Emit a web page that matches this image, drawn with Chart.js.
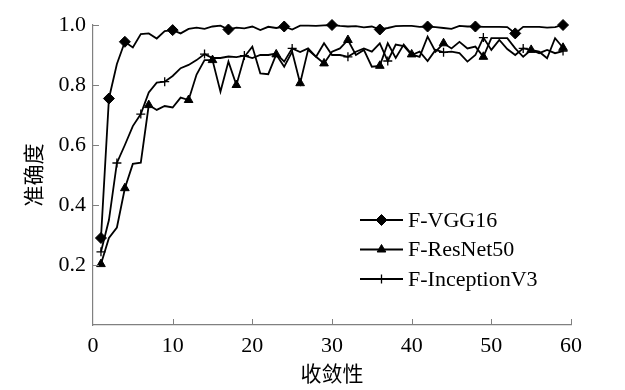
<!DOCTYPE html>
<html lang="zh">
<head>
<meta charset="UTF-8">
<title>准确度-收敛性</title>
<script src="https://cdn.jsdelivr.net/npm/chart.js"></script>
<style>
  html, body { margin: 0; padding: 0; background: #fff; }
  #wrap { width: 625px; height: 390px; }
</style>
</head>
<body>
<div id="wrap"><canvas id="chart"></canvas></div>
<script>
  // epochs 1..59
  const epochs = Array.from({ length: 59 }, (_, i) => i + 1);

  const vgg16 = [
    0.29, 0.755, 0.87, 0.944, 0.925, 0.97, 0.972, 0.955, 0.98, 0.983,
    0.972, 0.987, 0.991, 0.987, 0.995, 0.998, 0.985, 0.991, 0.989, 0.995,
    0.983, 0.994, 0.99, 0.995, 0.985, 0.998, 0.998, 0.997, 0.999, 1.0,
    0.997, 0.995, 0.996, 0.992, 0.995, 0.985, 0.99, 0.996, 0.997, 0.997,
    0.994, 0.995, 0.993, 0.99, 0.987, 0.997, 0.995, 0.995, 0.994, 0.994,
    0.994, 0.993, 0.972, 0.994, 0.994, 0.994, 0.991, 0.993, 1.0
  ];
  const resnet50 = [
    0.203, 0.29, 0.325, 0.456, 0.537, 0.541, 0.733, 0.717, 0.73, 0.725,
    0.758, 0.75, 0.835, 0.883, 0.883, 0.778, 0.878, 0.8, 0.894, 0.928,
    0.839, 0.836, 0.902, 0.861, 0.911, 0.806, 0.917, 0.894, 0.872, 0.911,
    0.922, 0.95, 0.9, 0.917, 0.861, 0.864, 0.939, 0.89, 0.935, 0.902,
    0.894, 0.961, 0.911, 0.939, 0.922, 0.944, 0.922, 0.928, 0.894, 0.956,
    0.956, 0.956, 0.922, 0.894, 0.917, 0.911, 0.889, 0.956, 0.924
  ];
  const inceptionV3 = [
    0.244, 0.35, 0.54, 0.6, 0.663, 0.703, 0.775, 0.808, 0.811, 0.83,
    0.856, 0.867, 0.883, 0.903, 0.89, 0.89, 0.895, 0.893, 0.898, 0.89,
    0.9, 0.9, 0.905, 0.878, 0.922, 0.91, 0.922, 0.894, 0.939, 0.9,
    0.9, 0.894, 0.911, 0.922, 0.911, 0.939, 0.88, 0.935, 0.93, 0.9,
    0.911, 0.88, 0.917, 0.909, 0.911, 0.906, 0.878, 0.9, 0.958, 0.917,
    0.95, 0.92, 0.9, 0.922, 0.917, 0.906, 0.917, 0.906, 0.913
  ];

  // epochs that carry a marker
  const vggMarks = [1, 2, 4, 10, 17, 24, 30, 36, 42, 48, 53, 59];
  const resnetMarks = [1, 4, 7, 12, 15, 18, 23, 26, 29, 32, 36, 40, 44, 49, 55, 59];
  const inceptionMarks = [1, 3, 6, 9, 14, 19, 25, 32, 37, 44, 49, 54, 59];

  const xTicks = [0, 10, 20, 30, 40, 50, 60];
  const yTicks = [0.2, 0.4, 0.6, 0.8, 1.0];

  const axisColor = '#808080';
  const serif = "'Liberation Serif', 'Times New Roman', serif";
  const cjk = "'Noto Sans CJK SC', sans-serif";

  const makeSet = (label, values, marks, style, radius) => ({
    label,
    data: epochs.map((e, i) => ({ x: e, y: values[i] })),
    borderColor: '#000',
    borderWidth: 1.8,
    backgroundColor: '#000',
    pointStyle: style,
    pointRadius: epochs.map(e => marks.includes(e) ? radius : 0),
    pointBackgroundColor: '#000',
    pointBorderColor: '#000',
    pointBorderWidth: style === 'cross' ? 1.3 : 1,
    tension: 0,
    clip: false
  });

  // ticks pointing into the plot
  const inwardTicks = {
    id: 'inwardTicks',
    afterDraw(chart) {
      const { ctx, chartArea, scales } = chart;
      ctx.save();
      ctx.strokeStyle = axisColor;
      ctx.lineWidth = 1;
      ctx.beginPath();
      xTicks.forEach(v => {
        if (v === 0) return;
        const px = Math.round(scales.x.getPixelForValue(v)) + 0.5;
        ctx.moveTo(px, chartArea.bottom);
        ctx.lineTo(px, chartArea.bottom - 6);
      });
      yTicks.forEach(v => {
        const py = Math.round(scales.y.getPixelForValue(v)) + 0.5;
        ctx.moveTo(chartArea.left, py);
        ctx.lineTo(chartArea.left + 6, py);
      });
      ctx.stroke();
      ctx.restore();
    }
  };

  // legend: short line with the marker in the middle
  const lineLegend = {
    id: 'lineLegend',
    afterDraw(chart) {
      const { ctx } = chart;
      ctx.save();
      ctx.font = `22px ${serif}`;
      ctx.textBaseline = 'middle';
      ctx.fillStyle = '#000';
      chart.data.datasets.forEach((ds, i) => {
        const y = 220 + i * 29.5;
        ctx.strokeStyle = '#000';
        ctx.lineWidth = 2;
        ctx.beginPath();
        ctx.moveTo(360, y);
        ctx.lineTo(403, y);
        ctx.stroke();
        const r = Math.max(...ds.pointRadius);
        ctx.lineWidth = ds.pointBorderWidth;
        Chart.helpers.drawPoint(ctx, { pointStyle: ds.pointStyle, radius: r, borderWidth: ds.pointBorderWidth, rotation: 0 }, 381.5, y);
        ctx.fillText(ds.label, 408, y + 1);
      });
      ctx.restore();
    }
  };

  new Chart(document.getElementById('chart'), {
    type: 'line',
    data: {
      datasets: [
        makeSet('F-VGG16', vgg16, vggMarks, 'rectRot', 5.5),
        makeSet('F-ResNet50', resnet50, resnetMarks, 'triangle', 5),
        makeSet('F-InceptionV3', inceptionV3, inceptionMarks, 'cross', 4.5)
      ]
    },
    options: {
      responsive: true,
      maintainAspectRatio: false,
      animation: false,
      layout: { padding: { top: 25, right: 54, left: 0, bottom: 0 } },
      plugins: { legend: { display: false }, tooltip: { enabled: false } },
      scales: {
        x: {
          type: 'linear',
          min: 0,
          max: 60,
          afterFit: s => { s.height = 65; },
          afterBuildTicks: s => { s.ticks = xTicks.map(v => ({ value: v })); },
          grid: { display: false, drawTicks: false },
          border: { display: true, color: axisColor, width: 1.2 },
          ticks: { color: '#000', padding: 8, font: { family: serif, size: 22 }, maxRotation: 0 },
          title: { display: true, text: '收敛性', color: '#000', font: { family: cjk, size: 21 }, padding: { top: 0, bottom: 4 } }
        },
        y: {
          min: 0,
          max: 1,
          afterFit: s => { s.width = 93; },
          afterBuildTicks: s => { s.ticks = yTicks.map(v => ({ value: v })); },
          grid: { display: false, drawTicks: false },
          border: { display: true, color: axisColor, width: 1.2 },
          ticks: { color: '#000', padding: 7, font: { family: serif, size: 22 }, callback: v => v.toFixed(1) },
          title: { display: true, text: '准确度', color: '#000', font: { family: cjk, size: 21 }, padding: { top: 20, bottom: 0 } }
        }
      }
    },
    plugins: [inwardTicks, lineLegend]
  });
</script>
</body>
</html>
